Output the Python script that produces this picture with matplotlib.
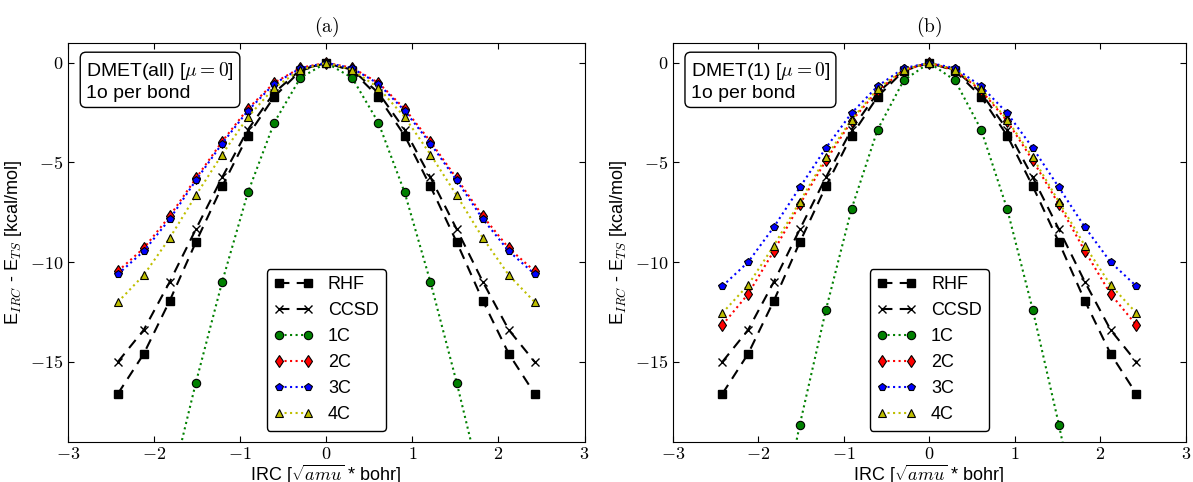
import matplotlib
matplotlib.use('Agg')
import matplotlib.pyplot as plt
from matplotlib.ticker import FuncFormatter

plt.rcParams['font.family'] = ['Liberation Sans', 'DejaVu Sans']
plt.rcParams['mathtext.fontset'] = 'cm'
plt.rcParams['xtick.direction'] = 'in'
plt.rcParams['ytick.direction'] = 'in'
plt.rcParams['xtick.top'] = True
plt.rcParams['ytick.right'] = True
plt.rcParams['xtick.major.size'] = 4
plt.rcParams['ytick.major.size'] = 4

# IRC coordinate
irc = [-2.42, -2.12, -1.82, -1.515, -1.21, -0.91, -0.605, -0.30, 0.0,
       0.30, 0.605, 0.91, 1.21, 1.515, 1.82, 2.12, 2.42]

rhf = [-16.6, -14.6, -11.95, -9.0, -6.2, -3.65, -1.7, -0.4, 0.0,
       -0.4, -1.7, -3.65, -6.2, -9.0, -11.95, -14.6, -16.6]
ccsd = [-15.0, -13.4, -11.0, -8.35, -5.75, -3.35, -1.5, -0.35, 0.0,
        -0.35, -1.5, -3.35, -5.75, -8.35, -11.0, -13.4, -15.0]

# (a) DMET(all)
a_1c = [-32.5, -27.0, -21.5, -16.05, -11.0, -6.5, -3.0, -0.75, 0.0,
        -0.75, -3.0, -6.5, -11.0, -16.05, -21.5, -27.0, -32.5]
a_2c = [-10.45, -9.3, -7.7, -5.8, -3.95, -2.3, -1.0, -0.25, 0.0,
        -0.25, -1.0, -2.3, -3.95, -5.8, -7.7, -9.3, -10.45]
a_3c = [-10.6, -9.45, -7.85, -5.9, -4.05, -2.4, -1.05, -0.27, 0.0,
        -0.27, -1.05, -2.4, -4.05, -5.9, -7.85, -9.45, -10.6]
a_4c = [-12.0, -10.65, -8.8, -6.65, -4.6, -2.72, -1.25, -0.35, 0.0,
        -0.35, -1.25, -2.72, -4.6, -6.65, -8.8, -10.65, -12.0]

# (b) DMET(1)
b_1c = [-37.5, -31.0, -24.5, -18.15, -12.4, -7.33, -3.35, -0.88, 0.0,
        -0.88, -3.35, -7.33, -12.4, -18.15, -24.5, -31.0, -37.5]
b_2c = [-13.15, -11.6, -9.45, -7.1, -4.9, -2.92, -1.38, -0.38, 0.0,
        -0.38, -1.38, -2.92, -4.9, -7.1, -9.45, -11.6, -13.15]
b_3c = [-11.2, -10.0, -8.25, -6.25, -4.27, -2.52, -1.17, -0.27, 0.0,
        -0.27, -1.17, -2.52, -4.27, -6.25, -8.25, -10.0, -11.2]
b_4c = [-12.55, -11.15, -9.18, -6.97, -4.75, -2.85, -1.3, -0.35, 0.0,
        -0.35, -1.3, -2.85, -4.75, -6.97, -9.18, -11.15, -12.55]

panels = [
    ('(a)', 'DMET(all) [$\\mu=0$]\n1o per bond', [a_1c, a_2c, a_3c, a_4c]),
    ('(b)', 'DMET(1) [$\\mu=0$]\n1o per bond', [b_1c, b_2c, b_3c, b_4c]),
]
frag_labels = ['1C', '2C', '3C', '4C']
frag_colors = ['#008000', 'r', 'b', '#bfbf00']
frag_markers = ['o', 'd', 'p', '^']

fig = plt.figure(figsize=(11.93, 4.82), dpi=100)
ax_pos = [[0.057, 0.084, 0.433, 0.827], [0.564, 0.084, 0.430, 0.827]]

tick_fmt = FuncFormatter(lambda v, p: '$%d$' % v)

for pos, (title, note, frags) in zip(ax_pos, panels):
    ax = fig.add_axes(pos)
    ax.plot(irc, rhf, 'k--', marker='s', ms=6, mec='k', lw=1.5, dashes=(5, 3.5), label='RHF')
    ax.plot(irc, ccsd, 'k--', marker='x', ms=6, mew=1, lw=1.5, dashes=(5, 3.5), label='CCSD')
    for vals, lab, col, mk in zip(frags, frag_labels, frag_colors, frag_markers):
        ax.plot(irc, vals, ':', color=col, marker=mk, ms=6, mfc=col, mec='k',
                mew=0.8, lw=1.5, label=lab)
    ax.set_xlim(-3, 3)
    ax.set_ylim(-19, 1)
    ax.set_yticks([0, -5, -10, -15])
    ax.xaxis.set_major_formatter(tick_fmt)
    ax.yaxis.set_major_formatter(tick_fmt)
    ax.tick_params(labelsize=13)
    ax.set_title('$\\mathrm{' + title + '}$', fontsize=14, pad=8)
    ax.set_xlabel('IRC [$\\sqrt{amu}$ * bohr]', fontsize=13, labelpad=0)
    ax.set_ylabel('E$_{IRC}$ - E$_{TS}$ [kcal/mol]', fontsize=13)
    ax.text(0.035, 0.957, note, transform=ax.transAxes, fontsize=14, va='top', ha='left',
            linespacing=1.2,
            bbox=dict(boxstyle='round,pad=0.3', fc='w', ec='k'))
    leg = ax.legend(loc='lower center', numpoints=2, fontsize=13, fancybox=True,
                    framealpha=1, edgecolor='k', borderaxespad=0.6, handlelength=2.2)
    leg.get_frame().set_linewidth(1.0)

fig.savefig('out.png', dpi=100, facecolor='w')
